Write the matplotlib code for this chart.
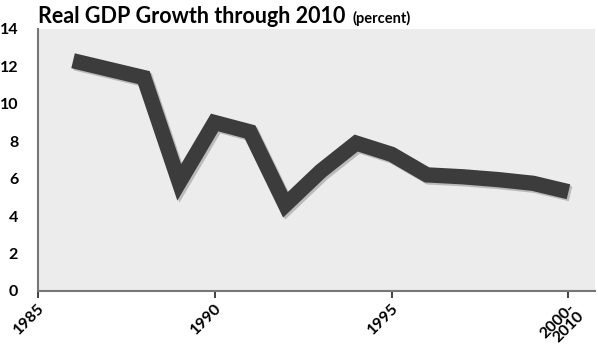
import matplotlib
matplotlib.use("Agg")
import matplotlib.pyplot as plt
import matplotlib.patheffects as pe

# Real GDP growth, percent
years = [1986, 1987, 1988, 1989, 1990, 1991, 1992, 1993, 1994, 1995,
         1996, 1997, 1998, 1999, 2000]
growth = [12.3, 11.85, 11.4, 5.8, 9.0, 8.5, 4.6, 6.4, 7.9, 7.3,
          6.2, 6.1, 5.95, 5.75, 5.3]
x_ticks = [1985, 1990, 1995, 2000]
x_labels = ["1985", "1990", "1995", "2000-\n2010"]
y_ticks = [0, 2, 4, 6, 8, 10, 12, 14]

fig = plt.figure(figsize=(5.98, 3.53), dpi=100)
fig.patch.set_facecolor("white")
ax = fig.add_axes([0.063, 0.176, 0.932, 0.742])
ax.set_facecolor("#ececec")

ax.plot(years, growth, color="#3c3c3c", linewidth=11,
        solid_joinstyle="miter", solid_capstyle="butt",
        path_effects=[pe.SimpleLineShadow(offset=(1.5, -1.5), shadow_color="#9a9a9a", alpha=0.6),
                      pe.Normal()])

ax.set_xlim(1985, 2000.75)
ax.set_ylim(0, 14)

ax.set_yticks(y_ticks)
ax.set_yticklabels([str(v) for v in y_ticks], fontsize=11.5, fontweight="bold",
                   family="Lato")
ax.tick_params(axis="y", length=0, pad=14)

ax.set_xticks(x_ticks)
ax.set_xticklabels(x_labels, fontsize=11.5, fontweight="bold", family="Lato",
                   rotation=45, ha="right", va="top", rotation_mode="anchor",
                   linespacing=0.85)
ax.tick_params(axis="x", length=5, width=1.3, color="#333333", pad=2)

for side in ("top", "right"):
    ax.spines[side].set_visible(False)
ax.spines["left"].set_color("#777777")
ax.spines["left"].set_linewidth(1.5)
ax.spines["bottom"].set_color("#777777")
ax.spines["bottom"].set_linewidth(1.5)

fig.text(0.063, 0.952, "Real GDP Growth through 2010", fontsize=15.5,
         fontweight="bold", family="Lato", ha="left", va="center")
fig.text(0.590, 0.948, "(percent)", fontsize=10.5, fontweight="bold",
         family="Lato", ha="left", va="center")

fig.savefig("out.png", dpi=100)
